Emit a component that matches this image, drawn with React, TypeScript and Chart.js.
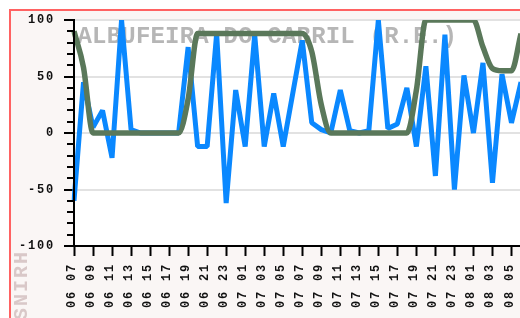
import React, { useEffect, useRef } from 'react';
import { Chart, registerables } from 'chart.js';

Chart.register(...registerables);

// "dd hh" labels, one per hour, starting 06 07:00
const timeLabels = [
  '06 07', '06 08', '06 09', '06 10', '06 11', '06 12', '06 13', '06 14', '06 15', '06 16', '06 17', '06 18',
  '06 19', '06 20', '06 21', '06 22', '06 23',
  '07 00', '07 01', '07 02', '07 03', '07 04', '07 05', '07 06', '07 07', '07 08', '07 09', '07 10', '07 11',
  '07 12', '07 13', '07 14', '07 15', '07 16', '07 17', '07 18', '07 19', '07 20', '07 21', '07 22', '07 23',
  '08 00', '08 01', '08 02', '08 03', '08 04', '08 05', '08 06',
];

// blue series
const levelSeries = [
  -60, 45, 5, 20, -22, 100, 3, 0, 0, 0, 0, 0,
  76, -12, -12, 88, -62, 38, -12, 87, -12, 35, -12, 35,
  82, 9, 3, 0, 38, 2, 0, 2, 100, 4, 8, 40,
  -12, 59, -38, 87, -50, 51, 0, 62, -44, 52, 9, 45,
];

// green series
const gateSeries = [
  90, 58, 0, 0, 0, 0, 0, 0, 0, 0, 0, 0,
  30, 88, 88, 88, 88, 88, 88, 88, 88, 88, 88, 88,
  88, 72, 25, 0, 0, 0, 0, 0, 0, 0, 0, 0,
  38, 100, 100, 100, 100, 100, 100, 76, 57, 55, 55, 88,
];

const yMajorTicks = [-100, -50, 0, 50, 100];
const yMinorTicks = [-90, -80, -70, -60, -40, -30, -20, -10, 10, 20, 30, 40, 60, 70, 80, 90];

const chartTitle = 'ALBUFEIRA DO CABRIL (R.E.)';
const sourceLabel = 'SNIRH';

const tickFont = { family: "'Liberation Mono', 'DejaVu Sans Mono', monospace", size: 12, weight: 'bold' as const };

export default function App() {
  const ref = useRef<HTMLCanvasElement>(null);

  useEffect(() => {
    const canvas = ref.current;
    if (!canvas) return;

    const spacing = {
      id: 'spacing',
      beforeUpdate(c: any) { c.ctx.letterSpacing = '1.8px'; },
      beforeDraw(c: any) { c.ctx.letterSpacing = '1.8px'; },
    };

    const backdrop = {
      id: 'backdrop',
      beforeDraw(c: any) {
        const { ctx, chartArea: a } = c;
        ctx.save();
        ctx.fillStyle = '#ffffff';
        ctx.fillRect(a.left, a.top, a.right - a.left, a.bottom - a.top);
        ctx.font = "bold 20px 'Liberation Mono', monospace";
        ctx.letterSpacing = '2px';
        ctx.fillStyle = '#d9c8c8';
        ctx.textAlign = 'left';
        ctx.textBaseline = 'alphabetic';
        ctx.translate(16, 309);
        ctx.rotate(-Math.PI / 2);
        ctx.fillText(sourceLabel, 0, 0);
        ctx.restore();
      },
    };

    const watermark = {
      id: 'watermark',
      beforeDatasetsDraw(c: any) {
        const { ctx, chartArea: a } = c;
        ctx.save();
        ctx.font = "bold 24px 'Liberation Mono', monospace";
        ctx.letterSpacing = '0.2px';
        ctx.fillStyle = '#b6b6b6';
        ctx.textAlign = 'left';
        ctx.textBaseline = 'alphabetic';
        ctx.fillText(chartTitle, a.left + 3.5, a.top + 23);
        ctx.restore();
      },
    };

    // short minor tick marks on the value axis
    const minorTicks = {
      id: 'minorTicks',
      afterDraw(c: any) {
        const { ctx, chartArea: a } = c;
        const y = c.scales.y;
        ctx.save();
        ctx.fillStyle = '#000';
        for (const v of yMinorTicks) {
          const py = Math.round(y.getPixelForValue(v));
          ctx.fillRect(Math.round(a.left) - 7, py - 1, 6, 2);
        }
        ctx.restore();
      },
    };

    const chart = new Chart(canvas, {
      type: 'line',
      data: {
        labels: timeLabels,
        datasets: [
          {
            label: 'gate',
            data: gateSeries,
            borderColor: '#5a785a',
            borderWidth: 5.5,
            pointRadius: 0,
            cubicInterpolationMode: 'monotone',
            borderJoinStyle: 'bevel',
            fill: false,
            order: 0,
          },
          {
            label: 'level',
            data: levelSeries,
            borderColor: '#0a88ff',
            borderWidth: 5,
            pointRadius: 0,
            tension: 0,
            borderJoinStyle: 'bevel',
            fill: false,
            order: 1,
          },
        ],
      },
      options: {
        responsive: false,
        animation: false,
        devicePixelRatio: 1,
        events: [],
        layout: { padding: { top: 9, right: 10, left: 0, bottom: 0 } },
        plugins: {
          legend: { display: false },
          tooltip: { enabled: false },
          title: { display: false },
        },
        scales: {
          x: {
            type: 'category',
            offset: false,
            grid: {
              display: true,
              drawOnChartArea: false,
              drawTicks: true,
              tickLength: 10,
              tickWidth: 2,
              tickColor: (c: any) => (c.index % 2 === 0 ? '#000' : 'rgba(0,0,0,0)'),
            },
            border: { display: true, color: '#000', width: 2 },
            ticks: {
              autoSkip: false,
              maxRotation: 90,
              minRotation: 90,
              padding: 7,
              labelOffset: -2,
              color: '#111',
              font: tickFont,
              callback: (_v: any, i: number) => (i % 2 === 0 ? timeLabels[i] : ''),
            },
            afterFit: (s: any) => {
              s.height = 95;
              s.paddingLeft = 0;
              s.paddingRight = 0;
            },
          },
          y: {
            type: 'linear',
            position: 'left',
            min: -100,
            max: 100,
            afterBuildTicks: (s: any) => { s.ticks = yMajorTicks.map((v) => ({ value: v })); },
            grid: {
              display: true,
              drawTicks: true,
              drawOnChartArea: true,
              tickLength: 10,
              lineWidth: 2,
              tickWidth: 2,
              color: (c: any) => (c.tick && c.tick.value === -100 ? 'rgba(0,0,0,0)' : '#e2e2e2'),
              tickColor: (_c: any) => '#000',
            },
            border: { display: true, color: '#000', width: 2, z: 1 },
            ticks: {
              autoSkip: false,
              padding: 9,
              color: '#111',
              font: tickFont,
              callback: (v: any) => String(v),
            },
            afterFit: (s: any) => {
              s.width = 63;
              s.paddingTop = 0;
              s.paddingBottom = 0;
            },
          },
        },
      } as any,
      plugins: [spacing, backdrop, watermark, minorTicks],
    });

    return () => chart.destroy();
  }, []);

  return (
    <div style={{ position: 'fixed', left: 0, top: 0, width: 520, height: 318, overflow: 'hidden', background: '#fff' }}>
      <div
        style={{
          position: 'absolute',
          left: 9,
          top: 9,
          width: 540,
          height: 340,
          border: '2px solid #ff6262',
          background: '#faf6f5',
        }}
      >
        <canvas ref={ref} width={520} height={330} style={{ display: 'block', width: 520, height: 330 }} />
      </div>
    </div>
  );
}
